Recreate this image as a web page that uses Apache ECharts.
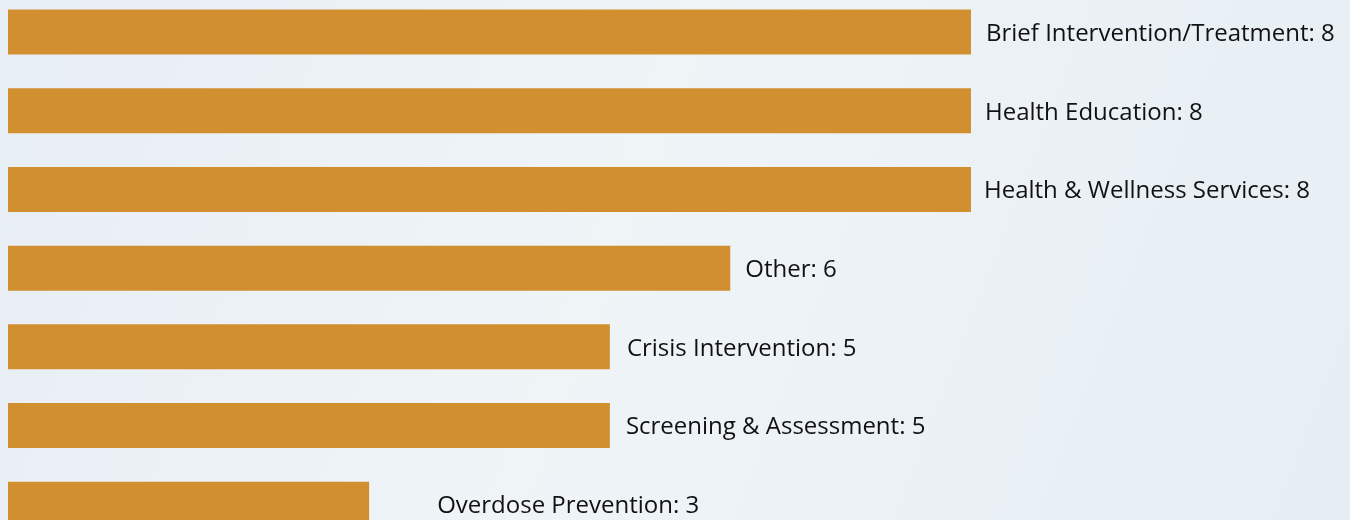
<!DOCTYPE html>
<html>
<head>
<meta charset="utf-8">
<script src="https://cdn.jsdelivr.net/npm/echarts@6/dist/echarts.min.js"></script>
<style>
  html, body { margin: 0; padding: 0; }
  #chart { width: 1350px; height: 520px; }
</style>
</head>
<body>
<div id="chart"></div>
<script>
  // categories, top to bottom
  const categories = [
    'Brief Intervention/Treatment',
    'Health Education',
    'Health & Wellness Services',
    'Other',
    'Crisis Intervention',
    'Screening & Assessment',
    'Overdose Prevention'
  ]
  const counts = [8, 8, 8, 6, 5, 5, 3]
  // extra gap between bar end and its label
  const labelGaps = [15, 14, 13, 15, 17, 16, 68]

  const chart = echarts.init(document.getElementById('chart'))

  const option = {
    backgroundColor: {
      type: 'linear', x: 0, y: 0, x2: 1, y2: 1,
      colorStops: [
        {offset: 0, color: '#e7eef4'},
        {offset: 0.45, color: '#eff4f7'},
        {offset: 1, color: '#e6eef4'}
      ]
    },
    animation: false,
    grid: {left: 8, top: -7.35, width: 963, height: 551, outerBoundsMode: 'none', containLabel: false},
    xAxis: {
      type: 'value', min: 0, max: 8,
      show: false
    },
    yAxis: {
      type: 'category',
      data: categories,
      inverse: true,
      show: false
    },
    series: [{
      type: 'bar',
      barWidth: 45,
      data: counts.map((v, i) => ({
        value: v,
        label: {distance: labelGaps[i]}
      })),
      itemStyle: {color: '#d18f30'},
      label: {
        show: true,
        position: 'right',
        offset: [0, 2],
        fontFamily: 'Open Sans',
        fontSize: 24,
        color: '#111',
        formatter: p => p.name + ': ' + p.value
      }
    }]
  }
  chart.setOption(option)
</script>
</body>
</html>
